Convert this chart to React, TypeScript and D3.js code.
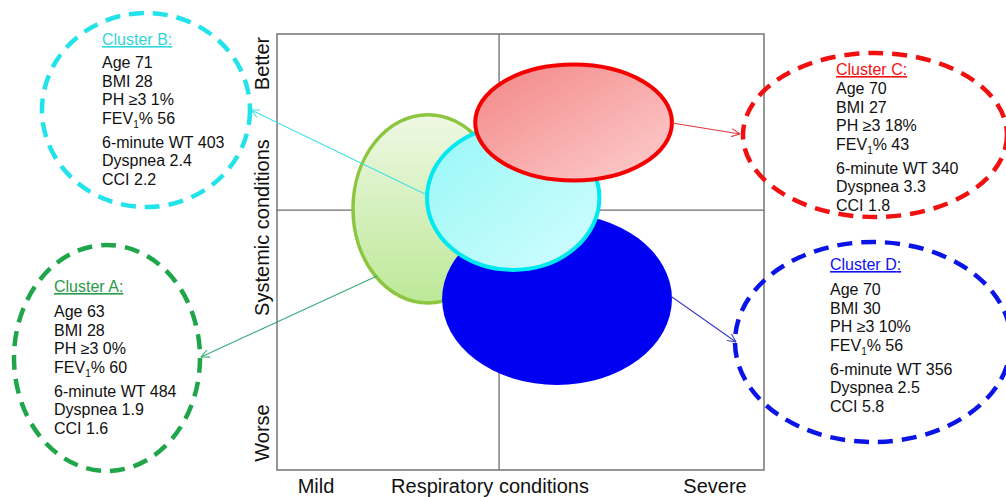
import React from "react";
import * as d3 from "d3";

// ---- data ----
const clusterNames = ["A", "B", "C", "D"];
const age = [63, 71, 70, 70];
const bmi = [28, 28, 27, 30];
const phPct = [0, 1, 18, 10];
const fev1 = [60, 56, 43, 56];
const walkTest = [484, 403, 340, 356];
const dyspnea = [1.9, 2.4, 3.3, 2.5];
const cci = [1.6, 2.2, 1.8, 5.8];

// ellipse geometry in axis units (0–100 on each axis)
const respCenter = [31.0, 48.5, 60.9, 57.5];
const sysCenter = [59.9, 62.4, 79.7, 39.2];
const respSpread = [15.4, 17.7, 20.2, 23.6];
const sysSpread = [21.6, 16.5, 13.3, 19.7];
const dividerResp = 45.6;
const dividerSys = 59.6;

const xLabels = ["Mild", "Respiratory conditions", "Severe"];
const yLabels = ["Better", "Systemic conditions", "Worse"];

// ---- layout ----
const W = 1006;
const H = 497;
const plot = { left: 277, right: 764, top: 34, bottom: 470 };
const FONT = "'Liberation Sans', Arial, Helvetica, sans-serif";

const x = d3.scaleLinear().domain([0, 100]).range([plot.left, plot.right]);
const y = d3.scaleLinear().domain([0, 100]).range([plot.bottom, plot.top]);

const colors: Record<string, { stroke: string; title: string; arrow: string }> = {
  A: { stroke: "#1fa64a", title: "#2a9a4a", arrow: "#3aaa78" },
  B: { stroke: "#22e3ea", title: "#2fd6dc", arrow: "#45e0e6" },
  C: { stroke: "#f01010", title: "#f01010", arrow: "#e03a3a" },
  D: { stroke: "#0a14e6", title: "#1010f0", arrow: "#3a3ac8" },
};

// callout boxes (pixel layout)
const callouts: Record<string, { cx: number; cy: number; rx: number; ry: number; tx: number; titleY: number; firstY: number; from: [number, number]; to: [number, number] }> = {
  A: { cx: 107, cy: 358, rx: 93, ry: 113, tx: 54, titleY: 292, firstY: 317, from: [377, 276], to: [201, 357] },
  B: { cx: 146, cy: 110, rx: 104, ry: 97, tx: 102, titleY: 45, firstY: 68, from: [427, 195], to: [251, 110] },
  C: { cx: 875, cy: 135, rx: 132, ry: 82, tx: 836, titleY: 75, firstY: 94, from: [672, 123], to: [740, 134] },
  D: { cx: 873, cy: 342, rx: 138, ry: 100, tx: 830, titleY: 270, firstY: 295, from: [672, 297], to: [736, 342] },
};

const drawOrder = [0, 3, 1, 2]; // A(green), D(blue), B(cyan), C(red)

const fills: Record<string, string> = {
  A: "url(#gA)",
  B: "url(#gB)",
  C: "url(#gC)",
  D: "#0000f2",
};
const outline: Record<string, { c: string; w: number }> = {
  A: { c: "#8cc63f", w: 3.5 },
  B: { c: "#00e8f0", w: 4 },
  C: { c: "#f50000", w: 4 },
  D: { c: "none", w: 0 },
};

export default function App() {
  const lineGap = 18.6;
  const groupGap = 24;
  return (
    <svg
      width={W}
      height={H}
      viewBox={`0 0 ${W} ${H}`}
      style={{ position: "absolute", left: 0, top: 0, background: "#fff" }}
      fontFamily={FONT}
    >
      <defs>
        <linearGradient id="gA" x1="0" y1="0" x2="0" y2="1">
          <stop offset="0" stopColor="#eef8e4" />
          <stop offset="1" stopColor="#bde897" />
        </linearGradient>
        <linearGradient id="gB" x1="0" y1="0" x2="1" y2="1">
          <stop offset="0" stopColor="#98f7f7" />
          <stop offset="1" stopColor="#d2fdfd" />
        </linearGradient>
        <linearGradient id="gC" x1="0" y1="0" x2="1" y2="1">
          <stop offset="0" stopColor="#f38585" />
          <stop offset="1" stopColor="#fdcfcf" />
        </linearGradient>
        {clusterNames.map((n) => (
          <marker
            key={n}
            id={`arr${n}`}
            viewBox="0 0 10 10"
            refX="9.5"
            refY="5"
            markerWidth="9"
            markerHeight="9"
            markerUnits="userSpaceOnUse"
            orient="auto"
          >
            <path d="M0,0.5 L9.5,5 L0,9.5" fill="none" stroke={colors[n].arrow} strokeWidth="1.2" />
          </marker>
        ))}
      </defs>

      <rect x={0} y={0} width={W} height={H} fill="#fff" />

      {/* plot frame and dividers */}
      <rect
        x={x(0)}
        y={y(100)}
        width={x(100) - x(0)}
        height={y(0) - y(100)}
        fill="none"
        stroke="#6b6b6b"
        strokeWidth={1.4}
      />
      <line x1={x(dividerResp)} x2={x(dividerResp)} y1={y(0)} y2={y(100)} stroke="#6b6b6b" strokeWidth={1.3} />
      <line x1={x(0)} x2={x(100)} y1={y(dividerSys)} y2={y(dividerSys)} stroke="#6b6b6b" strokeWidth={1.3} />

      {/* cluster ellipses */}
      {drawOrder.map((i) => {
        const n = clusterNames[i];
        return (
          <ellipse
            key={n}
            cx={x(respCenter[i])}
            cy={y(sysCenter[i])}
            rx={x(respCenter[i] + respSpread[i]) - x(respCenter[i])}
            ry={y(sysCenter[i]) - y(sysCenter[i] + sysSpread[i])}
            fill={fills[n]}
            stroke={outline[n].c}
            strokeWidth={outline[n].w}
          />
        );
      })}

      {/* arrows */}
      {clusterNames.map((n) => {
        const c = callouts[n];
        return (
          <line
            key={n}
            x1={c.from[0]}
            y1={c.from[1]}
            x2={c.to[0]}
            y2={c.to[1]}
            stroke={colors[n].arrow}
            strokeWidth={1.1}
            markerEnd={`url(#arr${n})`}
          />
        );
      })}

      {/* callouts */}
      {clusterNames.map((n, i) => {
        const c = callouts[n];
        const rows: React.ReactNode[] = [
          <>Age {age[i]}</>,
          <>BMI {bmi[i]}</>,
          <>PH ≥3 {phPct[i]}%</>,
          <>
            FEV
            <tspan fontSize={10} dy={4}>1</tspan>
            <tspan dy={-4}>% {fev1[i]}</tspan>
          </>,
          <>6-minute WT {walkTest[i]}</>,
          <>Dyspnea {dyspnea[i].toFixed(1)}</>,
          <>CCI {cci[i].toFixed(1)}</>,
        ];
        return (
          <g key={n}>
            <ellipse
              cx={c.cx}
              cy={c.cy}
              rx={c.rx}
              ry={c.ry}
              fill="none"
              stroke={colors[n].stroke}
              strokeWidth={4.5}
              strokeDasharray="15 9"
            />
            <text
              x={c.tx}
              y={c.titleY}
              fontSize={16}
              fill={colors[n].title}
              style={{ textDecoration: "underline" }}
            >
              Cluster {n}:
            </text>
            {rows.map((r, k) => (
              <text
                key={k}
                x={c.tx}
                y={c.firstY + k * lineGap + (k >= 4 ? groupGap - lineGap : 0)}
                fontSize={16}
                fill="#111"
              >
                {r}
              </text>
            ))}
          </g>
        );
      })}

      {/* axis labels */}
      {[63.5, 227.5, 433].map((cy, k) => (
        <text
          key={yLabels[k]}
          transform={`translate(269,${cy}) rotate(-90)`}
          textAnchor="middle"
          fontSize={20}
          fill="#111"
        >
          {yLabels[k]}
        </text>
      ))}
      {[316, 490, 715].map((cx, k) => (
        <text key={xLabels[k]} x={cx} y={493} textAnchor="middle" fontSize={20} fill="#111">
          {xLabels[k]}
        </text>
      ))}
    </svg>
  );
}
